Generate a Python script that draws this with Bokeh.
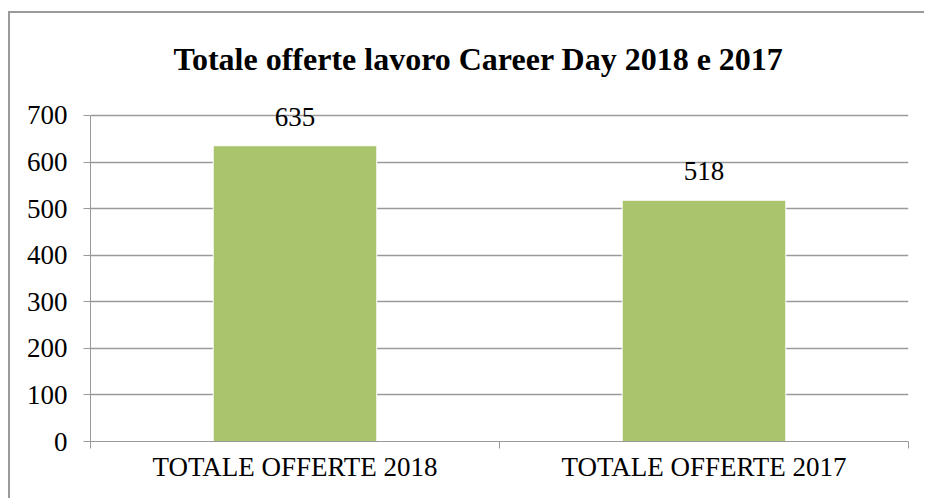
from bokeh.plotting import figure
from bokeh.models import ColumnDataSource, Range1d, FixedTicker, LabelSet
from bokeh.embed import file_html
from bokeh.resources import INLINE

categories = ["TOTALE OFFERTE 2018", "TOTALE OFFERTE 2017"]
values = [635, 518]
y_ticks = [0, 100, 200, 300, 400, 500, 600, 700]
title_text = "Totale offerte lavoro Career Day 2018 e 2017"

FONT = "Liberation Serif"
GRAY = "#9a9a9a"

xs = [i + 0.5 for i in range(len(categories))]
src = ColumnDataSource(dict(x=xs, top=values, label=[str(v) for v in values]))

# headroom above the last tick so the value labels are not clipped
y_end = y_ticks[-1] + 45

p = figure(width=916, height=487, output_backend="svg", toolbar_location=None,
           x_range=Range1d(0, len(categories)), y_range=Range1d(y_ticks[0], y_end),
           min_border_left=80, min_border_right=18, min_border_top=81, min_border_bottom=59)
p.outline_line_color = None
p.background_fill_color = "white"
p.border_fill_color = "white"
p.styles = {
    "border-left": f"2px solid {GRAY}",
    "border-top": f"2px solid {GRAY}",
    "border-right": "0px solid transparent",
    "border-bottom": "0px solid transparent",
    "outline": "none",
    "box-shadow": "none",
    "margin-left": "8px",
    "margin-top": "11px",
}

p.title.text = title_text
p.title.align = "left"
p.title.offset = 83
p.title.standoff = 36
p.title.text_font = FONT
p.title.text_font_size = "32px"
p.title.text_font_style = "bold"
p.title.text_color = "black"

p.vbar(x="x", top="top", width=0.4, bottom=0, source=src,
       fill_color="#a9c46c", line_color="white", line_width=1)

labels = LabelSet(x="x", y="top", text="label", source=src, text_align="center",
                  text_baseline="alphabetic", y_offset=20, text_font=FONT,
                  text_font_size="27px", text_color="black")
p.add_layout(labels)

# y axis
p.yaxis.ticker = FixedTicker(ticks=y_ticks)
p.yaxis.bounds = (y_ticks[0], y_ticks[-1])
p.yaxis.axis_line_color = GRAY
p.yaxis.major_tick_line_color = GRAY
p.yaxis.major_tick_out = 7
p.yaxis.major_tick_in = 0
p.yaxis.minor_tick_line_color = None
p.yaxis.major_label_text_font = FONT
p.yaxis.major_label_text_font_size = "27px"
p.yaxis.major_label_text_color = "black"
p.yaxis.major_label_standoff = 16

# x axis
p.xaxis.ticker = FixedTicker(ticks=xs, minor_ticks=list(range(len(categories) + 1)))
p.xaxis.major_label_overrides = {x: c for x, c in zip(xs, categories)}
p.xaxis.axis_line_color = GRAY
p.xaxis.major_tick_line_color = None
p.xaxis.major_tick_out = 0
p.xaxis.major_tick_in = 0
p.xaxis.minor_tick_line_color = GRAY
p.xaxis.minor_tick_out = 7
p.xaxis.minor_tick_in = 0
p.xaxis.major_label_text_font = FONT
p.xaxis.major_label_text_font_size = "27px"
p.xaxis.major_label_text_color = "black"
p.xaxis.major_label_standoff = 3

p.xgrid.grid_line_color = None
p.ygrid.grid_line_color = GRAY
p.ygrid.grid_line_width = 1.3

open("out.html", "w").write(file_html(p, INLINE))
